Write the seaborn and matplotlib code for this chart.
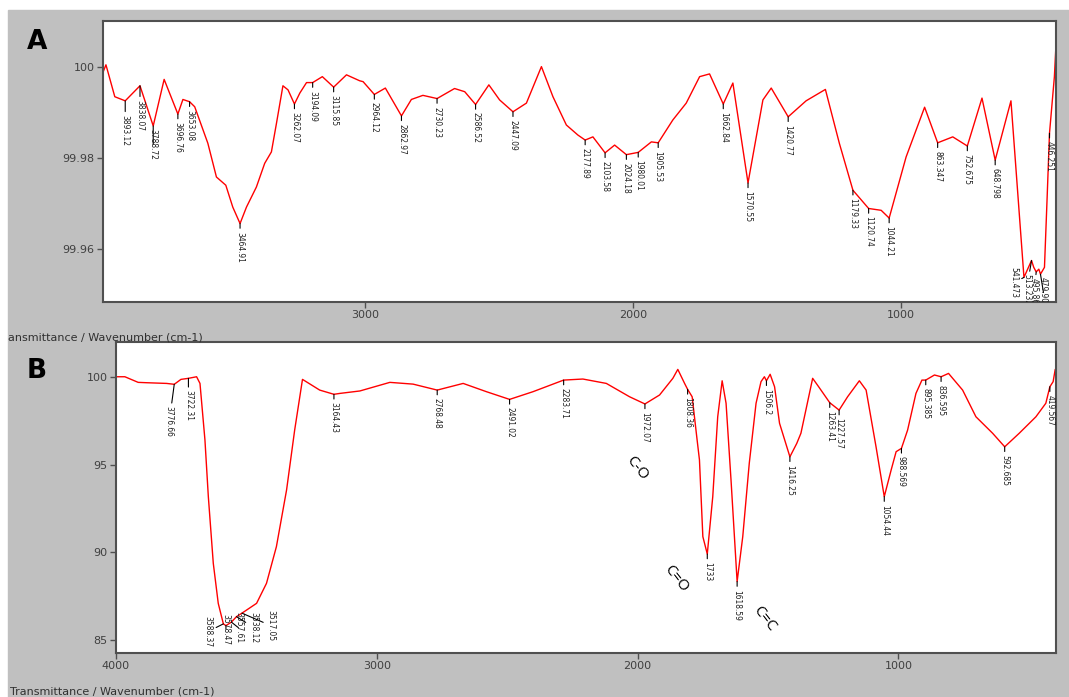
import matplotlib

matplotlib.use("Agg")
import matplotlib.pyplot as plt
import numpy as np
import seaborn as sns
from matplotlib import font_manager
from matplotlib.patches import Rectangle

# Spectrum A (wavenumber cm-1, transmittance %)
a_wavenumber = [
    3975, 3965, 3932, 3893.12, 3838.07, 3788.72, 3748, 3696.76, 3678, 3653.08,
    3634, 3585, 3553, 3518, 3492, 3464.91, 3441, 3404, 3373, 3348,
    3329, 3305, 3286, 3262.07, 3242, 3217, 3194.09, 3158, 3115.85, 3068,
    3019, 3006, 2964.12, 2923, 2862.97, 2826, 2783, 2730.23, 2665, 2627,
    2586.52, 2537, 2497, 2447.09, 2397, 2341, 2298, 2248, 2205, 2177.89,
    2149, 2103.58, 2068, 2024.18, 1980.01, 1931, 1905.53, 1851, 1801, 1751,
    1714, 1662.84, 1627, 1570.55, 1515, 1484, 1420.77, 1354, 1282, 1230,
    1179.33, 1120.74, 1074, 1044.21, 981, 912, 863.347, 807, 752.675, 698,
    648.798, 590, 541.473, 513.232, 505, 495.866, 486, 479.901, 465, 455,
    446.251, 428, 422,
]
a_transmittance = [
    99.9989, 100.0004, 99.9934, 99.9925, 99.9958, 99.9870, 99.9972, 99.9896, 99.9928, 99.9923,
    99.9912, 99.9832, 99.9758, 99.9740, 99.9692, 99.9656, 99.9692, 99.9736, 99.9788, 99.9813,
    99.9876, 99.9958, 99.9949, 99.9918, 99.9942, 99.9965, 99.9965, 99.9978, 99.9955, 99.9982,
    99.9969, 99.9967, 99.9939, 99.9953, 99.9892, 99.9928, 99.9937, 99.9930, 99.9952, 99.9945,
    99.9917, 99.9960, 99.9927, 99.9901, 99.9920, 100.0000, 99.9934, 99.9872, 99.9850, 99.9839,
    99.9846, 99.9811, 99.9828, 99.9807, 99.9812, 99.9835, 99.9833, 99.9883, 99.9920, 99.9978,
    99.9984, 99.9918, 99.9964, 99.9745, 99.9927, 99.9953, 99.9890, 99.9925, 99.9950, 99.9832,
    99.9729, 99.9689, 99.9685, 99.9668, 99.9802, 99.9911, 99.9833, 99.9846, 99.9826, 99.9931,
    99.9795, 99.9925, 99.9538, 99.9575, 99.9560, 99.9550, 99.9556, 99.9545, 99.9560, 99.9714,
    99.9854, 99.9978, 100.0048,
]
a_peaks = [
    "3893.12", "3838.07", "3788.72", "3696.76", "3653.08", "3464.91", "3262.07",
    "3194.09", "3115.85", "2964.12", "2862.97", "2730.23", "2586.52", "2447.09",
    "2177.89", "2103.58", "2024.18", "1980.01", "1905.53", "1662.84", "1570.55",
    "1420.77", "1179.33", "1120.74", "1044.21", "863.347", "752.675", "648.798",
    "541.473", "513.232", "495.866", "479.901", "446.251",
]

# Spectrum B
b_wavenumber = [
    4000, 3966, 3915, 3883, 3806, 3776.66, 3751, 3722.31, 3691, 3678,
    3659, 3646, 3627, 3608, 3588.37, 3578.47, 3557.61, 3538.12, 3517.05, 3461,
    3423, 3385, 3346, 3315, 3285, 3219, 3164.43, 3142, 3065, 2950,
    2861, 2768.48, 2669, 2580, 2491.02, 2401, 2283.71, 2210, 2120, 2031,
    1972.07, 1916, 1865, 1846, 1820, 1808.36, 1791, 1772, 1763, 1750,
    1733, 1712, 1693, 1676, 1661, 1642, 1618.59, 1597, 1572, 1546,
    1527, 1514, 1506.2, 1492, 1475, 1456, 1416.25, 1390, 1374, 1329,
    1306, 1263.41, 1227.57, 1195, 1150, 1124, 1086, 1054.44, 1028, 1009,
    988.569, 965, 933, 910, 895.385, 862, 836.595, 808, 754, 703,
    639, 592.685, 537, 473, 435, 419.567, 407, 399,
]
b_transmittance = [
    100.0, 100.0, 99.68, 99.66, 99.62, 99.57, 99.85, 99.91, 100.0, 99.62,
    96.40, 93.17, 89.37, 87.09, 85.92, 85.82, 86.02, 86.33, 86.53, 87.09,
    88.23, 90.32, 93.55, 96.96, 99.85, 99.24, 99.00, 99.05, 99.19, 99.68,
    99.58, 99.24, 99.62, 99.15, 98.71, 99.15, 99.81, 99.87, 99.62, 98.86,
    98.45, 98.96, 99.91, 100.42, 99.62, 99.28, 98.86, 96.40, 95.26, 90.89,
    89.90, 93.17, 97.72, 99.77, 98.49, 94.12, 88.33, 90.89, 95.07, 98.49,
    99.72, 100.0, 99.77, 100.14, 99.43, 97.35, 95.44, 96.20, 96.78, 99.91,
    99.43, 98.52, 98.10, 98.86, 99.77, 99.24, 96.01, 93.17, 94.69, 95.73,
    95.92, 96.96, 99.05, 99.81, 99.81, 100.10, 100.0, 100.19, 99.24, 97.72,
    96.78, 96.01, 96.78, 97.72, 98.49, 99.43, 99.72, 100.42,
]
b_peaks = [
    "3776.66", "3722.31", "3588.37", "3578.47", "3557.61", "3538.12", "3517.05",
    "3164.43", "2768.48", "2491.02", "2283.71", "1972.07", "1808.36", "1733",
    "1618.59", "1506.2", "1416.25", "1263.41", "1227.57", "1054.44", "988.569",
    "895.385", "836.595", "592.685", "419.567",
]
b_bonds = ["C-O", "C=O", "C=C"]
b_bond_wavenumber = [2004, 1851, 1514]
b_bond_transmittance = [94.8, 88.5, 86.2]

# label offsets in pixels (dx, dy), dy positive = up
a_offsets = {
    "3893.12": (0, -14), "3838.07": (0, -14), "3788.72": (0, -3),
    "541.473": (-10, 10), "513.232": (-5, -14), "495.866": (-2, -6),
    "479.901": (3, -3),
}
b_offsets = {
    "3776.66": (-5, -22), "3722.31": (0, -12),
    "3588.37": (-15, 8), "3578.47": (0, 12), "3557.61": (7, 10),
    "3538.12": (17, 5), "3517.05": (29, 3),
}

GREY = "#c0c0c0"
FRAME = "#505050"


def pick_label_font():
    # narrowest installed sans for the rotated peak labels
    fonts = font_manager.fontManager.ttflist
    names = {f.name for f in fonts}
    if "Liberation Sans Narrow" in names:
        return dict(family=["Liberation Sans Narrow", "DejaVu Sans"], fontsize=7)
    if any(f.name == "DejaVu Sans" and f.stretch == "condensed" for f in fonts):
        return dict(family=["DejaVu Sans"], fontstretch="condensed", fontsize=6)
    return dict(family=["Liberation Sans", "DejaVu Sans"], fontsize=6.2)


LABEL_FONT = pick_label_font()


def style_axes(ax):
    ax.set_facecolor("white")
    for spine in ax.spines.values():
        spine.set_visible(True)
        spine.set_color(FRAME)
        spine.set_linewidth(1.5)
    ax.tick_params(direction="out", length=4, width=1, color=FRAME,
                   labelsize=8, labelcolor="#404040", pad=2)
    ax.set_xlabel("")
    ax.set_ylabel("")


def add_peak_labels(ax, wn, tr, peaks, offsets):
    xs = np.array(wn)[::-1]
    ys = np.array(tr)[::-1]
    for txt in peaks:
        peak = float(txt)
        y = np.interp(peak, xs, ys)
        dx, dy = offsets.get(txt, (0, -8))
        ax.annotate(
            txt,
            xy=(peak, y),
            xytext=(dx * 0.72, dy * 0.72),
            textcoords="offset points",
            rotation=270,
            ha="center",
            va="top",
            color="#202020",
            arrowprops=dict(arrowstyle="-", color="black", lw=0.8,
                            shrinkA=0, shrinkB=0),
            annotation_clip=False,
            clip_on=True,
            **LABEL_FONT,
        )


sns.set_style("ticks")
plt.rcParams["font.family"] = ["DejaVu Sans"]

fig = plt.figure(figsize=(10.69, 6.97), dpi=100, facecolor="white")
fig.patches.append(Rectangle((8 / 1069, 0), 1, 687 / 697, transform=fig.transFigure,
                             color=GREY, zorder=-10))

# Panel A
ax_a = fig.add_axes([103 / 1069, 1 - 302 / 697, 953 / 1069, 281 / 697])
sns.lineplot(x=a_wavenumber, y=a_transmittance, ax=ax_a, color="#ff0000",
             linewidth=1, estimator=None, sort=False)
ax_a.set_xlim(3976, 422)
ax_a.set_ylim(99.9484, 100.0100)
ax_a.set_xticks([3000, 2000, 1000])
ax_a.set_xticklabels(["3000", "2000", "1000"])
ax_a.set_yticks([99.96, 99.98, 100.0])
ax_a.set_yticklabels(["99.96", "99.98", "100"])
style_axes(ax_a)
add_peak_labels(ax_a, a_wavenumber, a_transmittance, a_peaks, a_offsets)

# Panel B
ax_b = fig.add_axes([116 / 1069, 1 - 653 / 697, 940 / 1069, 311 / 697])
sns.lineplot(x=b_wavenumber, y=b_transmittance, ax=ax_b, color="#ff0000",
             linewidth=1, estimator=None, sort=False)
ax_b.set_xlim(4000, 396)
ax_b.set_ylim(84.26, 101.98)
ax_b.set_xticks([4000, 3000, 2000, 1000])
ax_b.set_xticklabels(["4000", "3000", "2000", "1000"])
ax_b.set_yticks([85, 90, 95, 100])
ax_b.set_yticklabels(["85", "90", "95", "100"])
style_axes(ax_b)
add_peak_labels(ax_b, b_wavenumber, b_transmittance, b_peaks, b_offsets)

for bond, x, y in zip(b_bonds, b_bond_wavenumber, b_bond_transmittance):
    ax_b.text(x, y, bond, rotation=-52, ha="center", va="center",
              fontsize=11, color="black", family=["Open Sans", "DejaVu Sans"])

# panel letters and axis captions
fig.text(37 / 1069, 1 - 42 / 697, "A", fontsize=19, fontweight="bold",
         color="black", ha="center", va="center")
fig.text(37 / 1069, 1 - 371 / 697, "B", fontsize=19, fontweight="bold",
         color="black", ha="center", va="center")
fig.text(8 / 1069, 1 - 337 / 697, "ansmittance / Wavenumber (cm-1)",
         fontsize=8, color="#303030", ha="left", va="center")
fig.text(10 / 1069, 1 - 691 / 697, "Transmittance / Wavenumber (cm-1)",
         fontsize=8, color="#303030", ha="left", va="center")

fig.savefig("out.png", dpi=100, facecolor=fig.get_facecolor())
plt.close()
